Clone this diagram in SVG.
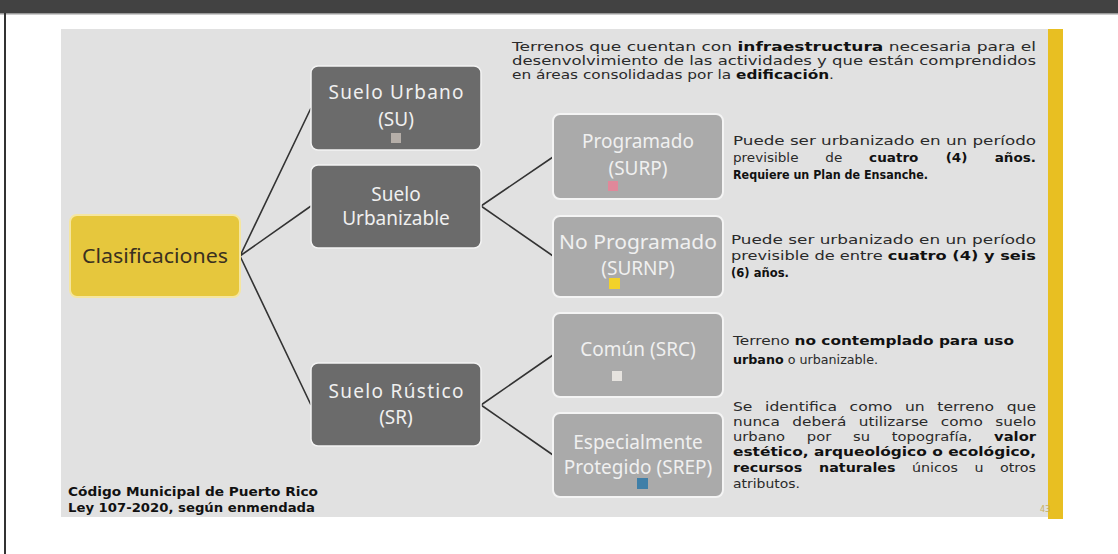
<svg xmlns="http://www.w3.org/2000/svg" width="1118" height="554" viewBox="0 0 1118 554">
<style>
.bx{font-family:"Noto Sans","Open Sans",sans-serif;font-size:19px;text-anchor:middle;fill:#f0f0f0}
.dk{fill:#6b6b6b;stroke:#f4f4f4;stroke-width:1.5}
.lt{fill:#aaaaaa;stroke:#f4f4f4;stroke-width:2}
.ds{font-family:"DejaVu Sans","Liberation Sans",sans-serif;font-size:12px;fill:#2a2a2a}
.b{font-weight:bold;fill:#111}
.cn{stroke:#333;stroke-width:1.6;fill:none}
</style>
<rect x="0" y="0" width="1118" height="554" fill="#ffffff"/>
<rect x="0" y="0" width="1118" height="13" fill="#424242"/>
<rect x="0" y="13" width="1118" height="1.5" fill="#9a9a9a"/>
<rect x="4" y="13" width="2" height="541" fill="#333"/>
<rect x="61" y="29" width="987" height="488" fill="#e1e1e1"/>
<rect x="1048" y="29" width="15" height="490" fill="#e8bf22"/>

<g id="connectors">
<path class="cn" d="M240 256 L311 108 M240 256 L311 206 M240 256 L311 405"/>
<path class="cn" d="M481 206 L553 157 M481 206 L553 256"/>
<path class="cn" d="M481 405 L553 355 M481 405 L553 455"/>
</g>

<g id="clasificaciones">
<rect x="70" y="215" width="170" height="82" rx="7" fill="#e6c73d" stroke="#f5e6a0" stroke-width="2"/>
<text class="bx" x="155" y="263" style="fill:#3a3020" textLength="146" lengthAdjust="spacingAndGlyphs">Clasificaciones</text>
</g>

<g id="suelo-urbano">
<rect class="dk" x="311" y="66" width="170" height="84" rx="7"/>
<text class="bx" x="396" y="99" textLength="135" lengthAdjust="spacing">Suelo Urbano</text>
<text class="bx" x="396" y="126">(SU)</text>
<rect x="391" y="133" width="10" height="10" fill="#b5aea8"/>
</g>

<g id="suelo-urbanizable">
<rect class="dk" x="311" y="165" width="170" height="83" rx="7"/>
<text class="bx" x="396" y="201">Suelo</text>
<text class="bx" x="396" y="225">Urbanizable</text>
</g>

<g id="suelo-rustico">
<rect class="dk" x="311" y="363" width="170" height="83" rx="7"/>
<text class="bx" x="396" y="398" textLength="135" lengthAdjust="spacing">Suelo Rústico</text>
<text class="bx" x="396" y="424">(SR)</text>
</g>

<g id="programado">
<rect class="lt" x="553" y="114" width="170" height="85" rx="7"/>
<text class="bx" x="638" y="148">Programado</text>
<text class="bx" x="638" y="175">(SURP)</text>
<rect x="608" y="181" width="10" height="10" fill="#e0889a"/>
</g>

<g id="no-programado">
<rect class="lt" x="553" y="216" width="170" height="81" rx="7"/>
<text class="bx" x="638" y="249" textLength="158" lengthAdjust="spacingAndGlyphs">No Programado</text>
<text class="bx" x="638" y="275">(SURNP)</text>
<rect x="609" y="278" width="11" height="11" fill="#f2d22a"/>
</g>

<g id="comun">
<rect class="lt" x="553" y="313" width="170" height="84" rx="7"/>
<text class="bx" x="638" y="356">Común (SRC)</text>
<rect x="612" y="371" width="10" height="10" fill="#e6e3df"/>
</g>

<g id="especialmente">
<rect class="lt" x="553" y="413" width="170" height="84" rx="7"/>
<text class="bx" x="638" y="449">Especialmente</text>
<text class="bx" x="638" y="474">Protegido (SREP)</text>
<rect x="637" y="478" width="11" height="11" fill="#3f7fa8"/>
</g>

<g id="texts">
<text class="ds" x="512" y="51" textLength="524" lengthAdjust="spacingAndGlyphs">Terrenos que cuentan con <tspan class="b">infraestructura</tspan> necesaria para el</text>
<text class="ds" x="512" y="65" textLength="524" lengthAdjust="spacingAndGlyphs">desenvolvimiento de las actividades y que están comprendidos</text>
<text class="ds" x="512" y="79" textLength="322" lengthAdjust="spacingAndGlyphs">en áreas consolidadas por la <tspan class="b">edificación</tspan>.</text>

<text class="ds" x="733" y="145" textLength="303" lengthAdjust="spacingAndGlyphs">Puede ser urbanizado en un período</text>
<text class="ds" x="733" y="162" textLength="303" lengthAdjust="spacingAndGlyphs" word-spacing="20">previsible de <tspan class="b">cuatro (4) años.</tspan></text>
<text class="ds b" x="733" y="179" textLength="195" lengthAdjust="spacingAndGlyphs">Requiere un Plan de Ensanche.</text>

<text class="ds" x="731" y="244" textLength="305" lengthAdjust="spacingAndGlyphs">Puede ser urbanizado en un período</text>
<text class="ds" x="731" y="260" textLength="305" lengthAdjust="spacingAndGlyphs">previsible de entre <tspan class="b">cuatro (4) y seis</tspan></text>
<text class="ds b" x="731" y="277" textLength="58" lengthAdjust="spacingAndGlyphs">(6) años.</text>

<text class="ds" x="733" y="345" textLength="281" lengthAdjust="spacingAndGlyphs">Terreno <tspan class="b">no contemplado para uso</tspan></text>
<text class="ds" x="733" y="364" textLength="145" lengthAdjust="spacingAndGlyphs"><tspan class="b">urbano</tspan> o urbanizable.</text>

<text class="ds" x="733" y="411" textLength="303" lengthAdjust="spacingAndGlyphs" word-spacing="6">Se identifica como un terreno que</text>
<text class="ds" x="733" y="426" textLength="303" lengthAdjust="spacingAndGlyphs" word-spacing="6">nunca deberá utilizarse como suelo</text>
<text class="ds" x="733" y="441" textLength="303" lengthAdjust="spacingAndGlyphs" word-spacing="14">urbano por su topografía, <tspan class="b">valor</tspan></text>
<text class="ds b" x="733" y="456" textLength="303" lengthAdjust="spacingAndGlyphs">estético, arqueológico o ecológico,</text>
<text class="ds" x="733" y="472" textLength="303" lengthAdjust="spacingAndGlyphs" word-spacing="10"><tspan class="b">recursos naturales</tspan> únicos u otros</text>
<text class="ds" x="733" y="488" textLength="67" lengthAdjust="spacingAndGlyphs">atributos.</text>

<text class="ds b" x="68" y="496" textLength="250" lengthAdjust="spacingAndGlyphs">Código Municipal de Puerto Rico</text>
<text class="ds b" x="68" y="512" textLength="247" lengthAdjust="spacingAndGlyphs">Ley 107-2020, según enmendada</text>
<text class="ds" x="1040" y="512" style="font-size:8px;fill:#c8b060">43</text>
</g>
</svg>
